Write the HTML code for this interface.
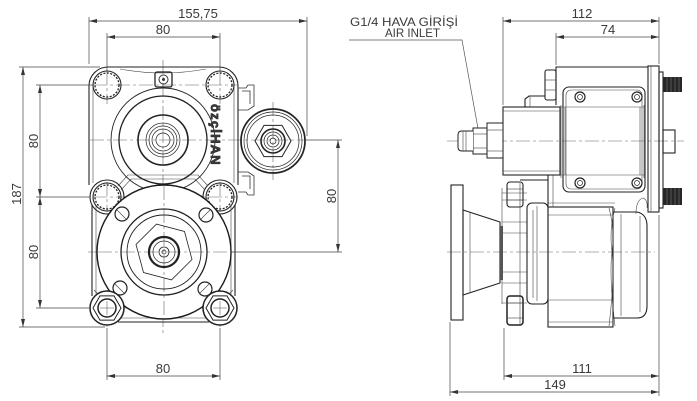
<!DOCTYPE html>
<html><head><meta charset="utf-8"><style>
html,body{margin:0;padding:0;background:#fff;}
svg{display:block}
text{font-family:"Liberation Sans",sans-serif;fill:#3a3a3a;}
</style></head><body>
<svg width="697" height="401" viewBox="0 0 697 401" xmlns="http://www.w3.org/2000/svg">
<defs>
<marker id="a" viewBox="0 0 8 4" refX="8" refY="2" markerWidth="8" markerHeight="4" orient="auto-start-reverse" markerUnits="userSpaceOnUse"><path d="M0,0 L8,2 L0,4z" fill="#333"/></marker>
</defs>
<rect width="697" height="401" fill="#fff"/>

<!-- ========== FRONT VIEW ========== -->
<g stroke="#666" stroke-width="0.6" stroke-dasharray="14 3 3 3" fill="none">
<line x1="163" y1="60" x2="163" y2="335"/>
<line x1="90" y1="140" x2="306" y2="140"/>
<line x1="88" y1="252" x2="234" y2="252"/>
<line x1="93" y1="85" x2="238" y2="85"/>
<line x1="93" y1="197" x2="238" y2="197"/>
<line x1="93" y1="308" x2="238" y2="308"/>
<line x1="107" y1="71" x2="107" y2="104"/>
<line x1="220" y1="71" x2="220" y2="104"/>
<line x1="107" y1="182" x2="107" y2="212"/>
<line x1="220" y1="182" x2="220" y2="212"/>
<line x1="107" y1="290" x2="107" y2="328"/>
<line x1="220" y1="290" x2="220" y2="328"/>
<line x1="273" y1="102" x2="273" y2="180"/>
</g>

<g stroke="#222" stroke-width="1.1" fill="none">
<path d="M89,185 L89,86 A19,19 0 0 1 108,67 L219,67 A19,19 0 0 1 238,86 L238,185"/>
<path d="M92,205 L92,296"/>
<path d="M235,205 L235,296"/>
<path d="M118,322 L209,322"/>
<circle cx="107" cy="197" r="17"/>
<circle cx="220" cy="197" r="17"/>
</g>
<g stroke="#444" stroke-width="0.6" fill="none">
<path d="M120,69 Q163,77 206,69"/>
<path d="M96,205 L96,296"/>
<path d="M231,205 L231,296"/>
<path d="M120,318 L207,318"/>
<path d="M93,86 L93,183"/>
<path d="M234,86 L234,183"/>
<path d="M118,186 L128,175 L198,175 L208,186"/>
<path d="M121,190 L131,179 L195,179 L205,190"/>
<path d="M94,290 L104,300"/>
<path d="M233,290 L223,300"/>
</g>

<g stroke="#222" fill="none">
<circle cx="107" cy="85" r="14" stroke-width="1.1"/>
<circle cx="107" cy="85" r="12" stroke-width="1.3" stroke-dasharray="2 1.5"/>
<circle cx="220" cy="85" r="14" stroke-width="1.1"/>
<circle cx="220" cy="85" r="12" stroke-width="1.3" stroke-dasharray="2 1.5"/>
<circle cx="107" cy="197" r="14" stroke-width="1.1"/>
<circle cx="107" cy="197" r="12" stroke-width="1.3" stroke-dasharray="2 1.5"/>
<circle cx="220" cy="197" r="14" stroke-width="1.1"/>
<circle cx="220" cy="197" r="12" stroke-width="1.3" stroke-dasharray="2 1.5"/>
</g>

<rect x="155" y="72" width="17" height="15" rx="2" fill="none" stroke="#222" stroke-width="1.3"/>
<circle cx="163.5" cy="79.5" r="4.5" fill="none" stroke="#333" stroke-width="1"/>
<circle cx="163.5" cy="79.5" r="1.5" fill="#333"/>

<g fill="none" stroke="#222">
<circle cx="163" cy="140" r="52" stroke-width="0.9"/>
<circle cx="163" cy="140" r="44" stroke-width="1.3"/>
<circle cx="163" cy="140" r="25" stroke-width="1.6"/>
<circle cx="163" cy="140" r="17" stroke-width="0.7"/>
<circle cx="163" cy="140" r="14" stroke-width="0.7"/>
<circle cx="163" cy="140" r="11" stroke-width="0.7"/>
<circle cx="163" cy="140" r="7" stroke-width="0.7"/>
</g>

<text transform="translate(211,104) rotate(90)" font-size="13" font-weight="bold" letter-spacing="1.2" fill="#fff" stroke="#333" stroke-width="0.8">özçİHAN</text>

<g fill="none" stroke="#333" stroke-width="0.8">
<path d="M238,88 L246,88 L248,85 L254,85 L254,106 L248,110 L238,110"/>
<path d="M242,91 L250,91 L250,104"/>
<path d="M238,172 L248,172 L254,176 L254,195 L248,195 L246,192 L238,192"/>
<path d="M242,176 L250,176 L250,189"/>
</g>

<g fill="none" stroke="#222">
<circle cx="273" cy="141" r="32" stroke-width="1.7"/>
<circle cx="273" cy="141" r="29" stroke-width="0.7"/>
<circle cx="273" cy="141" r="26" stroke-width="0.7"/>
<polygon points="291,141 282,125.4 264,125.4 255,141 264,156.6 282,156.6" stroke-width="1"/>
<circle cx="273" cy="141" r="12" stroke-width="1.6"/>
<circle cx="273" cy="141" r="9" stroke-width="0.7"/>
<circle cx="273" cy="141" r="6" stroke-width="0.7"/>
<circle cx="273" cy="141" r="3" stroke-width="0.7"/>
</g>

<circle cx="164" cy="252" r="67" fill="#fff" stroke="#1a1a1a" stroke-width="1.4"/>
<g stroke="#666" stroke-width="0.6" stroke-dasharray="14 3 3 3" fill="none">
<line x1="164" y1="186" x2="164" y2="318"/>
<line x1="98" y1="252" x2="230" y2="252"/>
</g>
<g fill="none" stroke="#222">
<circle cx="164" cy="252" r="43" stroke-width="1.3"/>
<circle cx="164" cy="252" r="37" stroke-width="0.9"/>
<polygon points="192,259.5 171.5,279.9 143.5,272.5 136,244.5 156.5,224.1 184.5,231.5" stroke-width="0.8"/>
<circle cx="164" cy="252" r="15" stroke-width="2.2"/>
<circle cx="164" cy="252" r="11" stroke-width="0.7"/>
<circle cx="164" cy="252" r="5" stroke-width="0.8"/>
<circle cx="164" cy="252" r="2" stroke-width="0.7"/>
<circle cx="122" cy="214" r="7" stroke-width="1.2"/>
<circle cx="206" cy="215" r="7" stroke-width="1.2"/>
<circle cx="120" cy="288" r="7" stroke-width="1.2"/>
<circle cx="205" cy="289" r="7" stroke-width="1.2"/>
</g>
<g stroke="#444" stroke-width="0.6">
<line x1="117" y1="210" x2="126" y2="219"/>
<line x1="201" y1="219" x2="210" y2="210"/>
<line x1="115" y1="284" x2="124" y2="293"/>
<line x1="200" y1="293" x2="209" y2="284"/>
</g>

<g fill="#fff" stroke="#222">
<circle cx="107" cy="308" r="17" stroke-width="1.5"/>
<polygon points="121,308 114,320.1 100,320.1 93,308 100,295.9 114,295.9" stroke-width="1" fill="none"/>
<circle cx="107" cy="308" r="9" stroke-width="1.5" fill="none"/>
<circle cx="220" cy="308" r="17" stroke-width="1.5"/>
<polygon points="234,308 227,320.1 213,320.1 206,308 213,295.9 227,295.9" stroke-width="1" fill="none"/>
<circle cx="220" cy="308" r="9" stroke-width="1.5" fill="none"/>
</g>
<g stroke="#666" stroke-width="0.6" fill="none">
<line x1="100" y1="308" x2="114" y2="308"/>
<line x1="107" y1="301" x2="107" y2="315"/>
<line x1="213" y1="308" x2="227" y2="308"/>
<line x1="220" y1="301" x2="220" y2="315"/>
</g>

<g stroke="#444" stroke-width="0.7" fill="none">
<line x1="89" y1="17" x2="89" y2="64"/>
<line x1="307" y1="17" x2="307" y2="136"/>
<line x1="107" y1="33" x2="107" y2="71"/>
<line x1="220" y1="33" x2="220" y2="71"/>
<line x1="19" y1="67" x2="100" y2="67"/>
<line x1="19" y1="327" x2="105" y2="327"/>
<line x1="36" y1="85" x2="93" y2="85"/>
<line x1="36" y1="197" x2="90" y2="197"/>
<line x1="36" y1="308" x2="90" y2="308"/>
<line x1="306" y1="140" x2="342" y2="140"/>
<line x1="232" y1="252" x2="342" y2="252"/>
<line x1="107" y1="328" x2="107" y2="380"/>
<line x1="220" y1="328" x2="220" y2="380"/>
<line x1="89" y1="21" x2="307" y2="21" marker-start="url(#a)" marker-end="url(#a)"/>
<line x1="107" y1="37" x2="220" y2="37" marker-start="url(#a)" marker-end="url(#a)"/>
<line x1="23" y1="67" x2="23" y2="327" marker-start="url(#a)" marker-end="url(#a)"/>
<line x1="40" y1="85" x2="40" y2="197" marker-start="url(#a)" marker-end="url(#a)"/>
<line x1="40" y1="197" x2="40" y2="308" marker-start="url(#a)" marker-end="url(#a)"/>
<line x1="338" y1="140" x2="338" y2="252" marker-start="url(#a)" marker-end="url(#a)"/>
<line x1="107" y1="376" x2="220" y2="376" marker-start="url(#a)" marker-end="url(#a)"/>
</g>
<g font-size="13" text-anchor="middle">
<text x="198" y="18">155,75</text>
<text x="163" y="34">80</text>
<text transform="translate(21,194) rotate(-90)">187</text>
<text transform="translate(38,141) rotate(-90)">80</text>
<text transform="translate(38,252) rotate(-90)">80</text>
<text transform="translate(336,196) rotate(-90)">80</text>
<text x="163" y="373">80</text>
</g>

<!-- ========== SIDE VIEW ========== -->
<g stroke="#666" stroke-width="0.6" stroke-dasharray="14 3 3 3" fill="none">
<line x1="447" y1="141" x2="684" y2="141"/>
<line x1="447" y1="252" x2="655" y2="252"/>
</g>

<text x="350" y="26" font-size="12" textLength="108" lengthAdjust="spacingAndGlyphs">G1/4 HAVA GİRİŞİ</text>
<text x="385" y="37" font-size="12" textLength="55" lengthAdjust="spacingAndGlyphs">AIR INLET</text>
<polyline points="349,40 462,40 479,134" fill="none" stroke="#555" stroke-width="0.7"/>

<g fill="none" stroke="#222" stroke-width="1.1">
<path d="M556,105 L556,67 L648,67"/>
<rect x="503" y="107" width="57" height="68"/>
<rect x="563" y="87" width="82" height="105" rx="6"/>
<rect x="545" y="70" width="11" height="30" rx="2"/>
<path d="M525,107 L525,99 L529,96 L545,96"/>
<rect x="648" y="66" width="11" height="146"/>
<rect x="659" y="72" width="4" height="136"/>
<rect x="663" y="130" width="12" height="23"/>
</g>
<g fill="none" stroke="#444" stroke-width="0.6">
<rect x="566" y="90" width="76" height="99" rx="5"/>
<line x1="560" y1="107" x2="645" y2="107"/>
<line x1="560" y1="175" x2="645" y2="175"/>
<line x1="561" y1="105" x2="561" y2="178"/>
<line x1="565" y1="107" x2="565" y2="175"/>
<line x1="640" y1="107" x2="640" y2="175"/>
<line x1="644" y1="105" x2="644" y2="178"/>
<line x1="651" y1="66" x2="651" y2="212"/>
<line x1="545" y1="80" x2="556" y2="80"/>
<line x1="545" y1="90" x2="556" y2="90"/>
<line x1="530" y1="96" x2="530" y2="107"/>
<line x1="503" y1="111" x2="560" y2="111"/>
<line x1="503" y1="171" x2="560" y2="171"/>
</g>
<g fill="none" stroke="#222">
<circle cx="580" cy="97" r="5" stroke-width="1.2"/><circle cx="580" cy="97" r="2.5" stroke-width="0.7"/>
<circle cx="637" cy="97" r="5" stroke-width="1.2"/><circle cx="637" cy="97" r="2.5" stroke-width="0.7"/>
<circle cx="580" cy="183" r="5" stroke-width="1.2"/><circle cx="580" cy="183" r="2.5" stroke-width="0.7"/>
<circle cx="637" cy="183" r="5" stroke-width="1.2"/><circle cx="637" cy="183" r="2.5" stroke-width="0.7"/>
</g>
<rect x="663" y="77" width="19" height="15" fill="#262626"/>
<rect x="663" y="188" width="19" height="17" fill="#262626"/>
<g stroke="#888" stroke-width="0.5">
<line x1="667" y1="77" x2="667" y2="92"/><line x1="671" y1="77" x2="671" y2="92"/><line x1="675" y1="77" x2="675" y2="92"/><line x1="679" y1="77" x2="679" y2="92"/>
<line x1="667" y1="188" x2="667" y2="205"/><line x1="671" y1="188" x2="671" y2="205"/><line x1="675" y1="188" x2="675" y2="205"/><line x1="679" y1="188" x2="679" y2="205"/>
</g>

<g fill="#fff" stroke="#222" stroke-width="1">
<rect x="487" y="123" width="16" height="35"/>
<rect x="473" y="128" width="14" height="26"/>
<path d="M473,131 L462,131 Q458,131 458,135 L458,147 Q458,151 462,151 L473,151"/>
</g>
<g stroke="#444" stroke-width="0.6" fill="none">
<line x1="487" y1="130" x2="503" y2="130"/>
<line x1="487" y1="151" x2="503" y2="151"/>
<line x1="473" y1="134" x2="487" y2="134"/>
<line x1="473" y1="148" x2="487" y2="148"/>
<line x1="463" y1="131" x2="463" y2="151"/>
<line x1="466" y1="131" x2="466" y2="151"/>
</g>

<g fill="none" stroke="#222" stroke-width="1.1">
<rect x="451" y="185" width="12" height="135"/>
<polygon points="463,210 500,222 500,283 463,295"/>
<rect x="548" y="207" width="65" height="120"/>
<path d="M613,212 L637,212 Q647,214 647,226 L647,306 Q647,318 637,318 L613,318"/>
<rect x="527" y="203" width="21" height="101" rx="5"/>
<rect x="507" y="182" width="16" height="25" rx="3"/>
<rect x="507" y="296" width="16" height="29" rx="3" stroke-width="1.5"/>
<path d="M548,175 L548,207"/>
<path d="M520,180 L548,180"/>
</g>
<g fill="none" stroke="#444" stroke-width="0.6">
<line x1="502" y1="188" x2="502" y2="304"/>
<line x1="520" y1="183" x2="520" y2="326"/>
<line x1="502" y1="193" x2="527" y2="193"/>
<line x1="502" y1="200" x2="527" y2="200"/>
<line x1="502" y1="222" x2="527" y2="222"/>
<line x1="502" y1="233" x2="527" y2="233"/>
<line x1="502" y1="272" x2="527" y2="272"/>
<line x1="502" y1="283" x2="527" y2="283"/>
<line x1="502" y1="303" x2="527" y2="303"/>
<line x1="533" y1="210" x2="533" y2="298"/>
<line x1="537" y1="206" x2="537" y2="301"/>
<line x1="548" y1="215" x2="613" y2="215"/>
<line x1="548" y1="300" x2="613" y2="300"/>
<line x1="548" y1="322" x2="613" y2="322"/>
<line x1="553" y1="175" x2="553" y2="207"/>
<line x1="548" y1="203" x2="615" y2="203"/>
<line x1="621" y1="214" x2="621" y2="316"/>
<line x1="640" y1="216" x2="640" y2="312"/>
<line x1="470" y1="212" x2="470" y2="293"/>
<line x1="507" y1="189" x2="523" y2="189"/>
<line x1="507" y1="200" x2="523" y2="200"/>
<line x1="507" y1="303" x2="523" y2="303"/>
<line x1="507" y1="318" x2="523" y2="318"/>
<path d="M609,208 Q615,230 612,252 Q609,275 615,326"/>
<path d="M615,208 Q609,230 612,252 Q615,275 609,326"/>
<path d="M636,214 Q636,200 643,198 Q648,200 647,208"/>
</g>
<rect x="500" y="226" width="3" height="54" fill="#555"/>

<g stroke="#444" stroke-width="0.7" fill="none">
<line x1="503" y1="17" x2="503" y2="105"/>
<line x1="556" y1="33" x2="556" y2="65"/>
<line x1="659" y1="17" x2="659" y2="64"/>
<line x1="450" y1="322" x2="450" y2="396"/>
<line x1="504" y1="328" x2="504" y2="380"/>
<line x1="659" y1="215" x2="659" y2="396"/>
<line x1="503" y1="21" x2="659" y2="21" marker-start="url(#a)" marker-end="url(#a)"/>
<line x1="556" y1="37" x2="659" y2="37" marker-start="url(#a)" marker-end="url(#a)"/>
<line x1="504" y1="376" x2="659" y2="376" marker-start="url(#a)" marker-end="url(#a)"/>
<line x1="450" y1="392" x2="659" y2="392" marker-start="url(#a)" marker-end="url(#a)"/>
</g>
<g font-size="13" text-anchor="middle">
<text x="582" y="18">112</text>
<text x="608" y="34">74</text>
<text x="582" y="373">111</text>
<text x="555" y="389">149</text>
</g>
</svg>
</body></html>
